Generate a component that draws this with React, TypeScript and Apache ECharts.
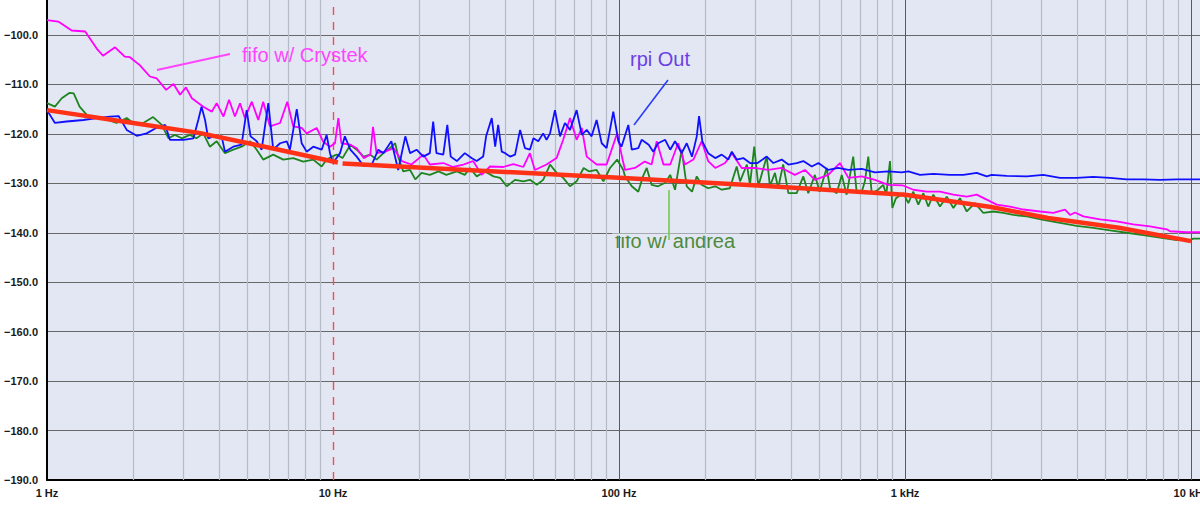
import React, { useEffect, useRef } from "react";
import * as echarts from "echarts";

// Frequency (Hz), level (dB)
const rpiOut: [number, number][] = [
  [1, -115.2], [1.066, -117.8], [1.17, -117.5], [1.34, -117.2], [1.49, -116.8], [1.66, -116.5], [1.78, -116.4],
  [1.9, -119.2], [2.06, -120.4], [2.23, -119.9], [2.39, -118.9], [2.59, -118.2], [2.69, -121.2], [3.0, -121.2],
  [3.25, -120.9], [3.38, -117.2], [3.47, -114.5], [3.57, -117.2], [3.66, -120.9], [3.82, -120.5], [4.08, -120.5],
  [4.19, -123.6], [4.48, -122.6], [4.79, -122.2], [4.99, -115.2], [5.15, -120.5], [5.41, -121.5], [5.63, -123.2],
  [5.94, -113.8], [6.18, -123.2], [6.53, -121.9], [6.89, -121.5], [7.07, -123.2], [7.47, -115.0], [7.77, -121.9],
  [8.09, -123.6], [8.53, -122.6], [9.13, -123.2], [9.5, -120.2], [9.76, -123.9], [10.0, -125.9], [10.58, -123.9],
  [11.0, -120.5], [11.5, -123.2], [12.1, -124.6], [12.8, -126.5], [13.65, -126.3], [14.4, -123.2], [15.0, -123.9],
  [16.0, -121.5], [16.9, -127.3], [17.9, -120.5], [18.6, -123.9], [19.6, -123.2], [20.7, -124.6], [21.8, -123.9],
  [22.4, -117.5], [23.0, -123.9], [24.3, -124.2], [25.1, -118.2], [25.8, -124.6], [27.1, -125.5], [28.9, -123.9],
  [30.5, -124.9], [31.8, -125.5], [33.5, -124.6], [34.3, -120.5], [35.9, -116.8], [36.9, -122.6], [37.8, -118.2],
  [38.9, -123.6], [40.0, -123.9], [41.6, -124.6], [43.3, -124.2], [45.1, -119.2], [46.9, -122.9], [48.8, -123.2],
  [50.2, -120.9], [52.2, -121.5], [54.3, -119.9], [55.8, -121.2], [57.4, -119.9], [59.7, -115.2], [62.2, -120.5],
  [64.7, -117.8], [67.4, -119.2], [71.1, -115.2], [74.1, -120.2], [77.1, -119.2], [80.2, -120.5], [83.5, -117.2],
  [87.0, -121.9], [90.5, -122.9], [95.5, -115.5], [99.5, -121.5], [102, -122.6], [107.8, -118.2], [110.8, -123.2],
  [116.8, -122.9], [120, -121.2], [127, -122.2], [131.8, -123.6], [137, -121.9], [145, -121.2], [151, -123.2],
  [157, -121.5], [165.6, -123.9], [172.5, -121.9], [180, -124.6], [187, -120.5], [190.5, -116.4], [195.6, -121.5],
  [205, -123.9], [217, -124.9], [228.6, -124.2], [241, -125.2], [248, -123.6], [258, -125.2], [272, -124.9],
  [287, -125.9], [305, -125.9], [328.5, -124.6], [346.5, -125.9], [370.5, -125.2], [391, -126.2], [418, -125.9],
  [441, -125.5], [472, -126.6], [498, -125.9], [539, -127.3], [584, -126.9], [634, -127.3], [706, -127.1],
  [785, -127.8], [875, -127.6], [973, -127.8], [1027, -127.6], [1128, -128.3], [1256, -128.1], [1436, -128.3],
  [1600, -128.3], [1781, -127.9], [1930, -128.6], [2009, -128.3], [2267, -128.5], [2665, -128.6], [3045, -128.3],
  [3483, -128.9], [3983, -128.9], [4553, -128.7], [5207, -128.9], [5956, -129.2], [6810, -129.2], [7792, -129.3],
  [8913, -129.2], [10190, -129.2], [10750, -129.2],
];

const fifoCrystek: [number, number][] = [
  [1, -97.0], [1.095, -97.3], [1.22, -99.1], [1.36, -99.3], [1.49, -102.7], [1.57, -104.2], [1.73, -102.5],
  [1.87, -104.4], [1.95, -104.5], [2.11, -106.1], [2.29, -108.4], [2.42, -108.8], [2.61, -111.1], [2.77, -109.9],
  [2.92, -112.1], [3.06, -110.6], [3.21, -112.8], [3.52, -114.5], [3.77, -115.5], [3.92, -113.8], [4.14, -116.5],
  [4.33, -113.1], [4.54, -116.5], [4.73, -113.8], [4.92, -116.8], [5.2, -113.5], [5.48, -117.2], [5.7, -113.5],
  [6.02, -118.5], [6.53, -117.8], [6.92, -113.5], [7.26, -118.5], [7.77, -118.8], [8.09, -119.9], [8.77, -118.8],
  [9.25, -121.6], [9.76, -122.6], [10.16, -121.9], [10.44, -116.8], [10.7, -121.9], [11.5, -122.2], [12.1, -122.9],
  [12.8, -124.9], [13.5, -124.2], [13.8, -118.6], [14.2, -123.9], [15.2, -123.6], [16.3, -122.9], [17.4, -125.5],
  [18.8, -126.2], [20.7, -124.2], [21.8, -126.2], [24.3, -125.9], [26.3, -126.7], [28.6, -126.2], [30.9, -125.5],
  [33.1, -128.3], [35.4, -126.6], [39.4, -126.7], [42.7, -126.1], [46.3, -126.7], [48.8, -123.9], [50.8, -127.3],
  [55.8, -126.2], [60.5, -124.9], [63.8, -121.2], [67.4, -116.8], [71.1, -121.2], [74.1, -118.8], [77.1, -124.6],
  [83.5, -126.2], [90.5, -126.2], [98.5, -119.9], [103, -125.3], [105, -127.3], [113.7, -126.9], [123, -125.6],
  [130, -126.2], [135.5, -121.5], [143, -126.2], [151, -126.2], [161, -121.9], [170, -126.2], [182, -125.2],
  [194.5, -121.5], [205, -125.5], [217, -126.9], [235, -125.9], [248, -123.9], [268.5, -126.9], [299, -126.9],
  [332.5, -127.3], [370.5, -126.9], [412, -128.3], [447, -127.3], [484, -129.3], [539, -128.3], [592, -125.9],
  [634, -128.9], [706, -128.6], [785, -129.3], [875, -130.3], [980, -130.4], [1069, -131.3], [1191, -131.7],
  [1325, -131.7], [1476, -132.3], [1644, -132.7], [1781, -132.3], [1930, -133.3], [2093, -134.3], [2328, -134.7],
  [2592, -135.3], [2965, -135.7], [3301, -136.0], [3626, -135.3], [3776, -136.4], [3929, -135.9], [4203, -136.7],
  [4808, -137.3], [5500, -137.7], [6286, -138.3], [7189, -138.7], [8226, -139.3], [8446, -139.7], [9660, -139.9],
  [10750, -139.9],
];

const fifoAndrea: [number, number][] = [
  [1, -113.8], [1.066, -114.5], [1.126, -112.8], [1.2, -111.7], [1.24, -111.8], [1.3, -114.5], [1.41, -116.8],
  [1.57, -116.8], [1.75, -117.8], [1.9, -116.8], [2.0, -117.8], [2.17, -117.8], [2.35, -116.6], [2.52, -118.2],
  [2.66, -120.9], [2.8, -120.2], [2.96, -120.9], [3.16, -120.2], [3.33, -120.9], [3.52, -119.9], [3.71, -122.6],
  [3.92, -121.5], [4.19, -123.9], [4.48, -123.2], [4.79, -122.6], [5.13, -121.5], [5.41, -123.2], [5.7, -125.2],
  [6.18, -124.2], [6.7, -125.2], [7.26, -124.9], [7.87, -125.6], [8.53, -125.2], [9.13, -126.6], [9.5, -125.2],
  [10.0, -124.5], [10.3, -124.2], [10.8, -124.9], [11.5, -122.2], [12.1, -123.2], [12.8, -124.6], [13.5, -124.2],
  [14.2, -125.2], [15.0, -123.9], [15.8, -122.9], [16.5, -121.9], [16.9, -124.6], [17.6, -127.6], [18.6, -127.3],
  [19.4, -129.2], [20.4, -127.9], [21.8, -128.3], [23.4, -127.6], [24.9, -128.3], [27.1, -127.6], [28.9, -128.3],
  [30.1, -126.9], [31.8, -128.6], [34, -127.6], [36.4, -128.6], [38.4, -128.9], [40.5, -130.6], [43.3, -129.3],
  [46.3, -129.6], [48.8, -129.3], [51.6, -130.3], [54.3, -129.3], [57.4, -126.2], [60.5, -127.9], [63.8, -128.9],
  [67.4, -130.6], [71.1, -129.6], [75.2, -126.9], [78.7, -127.6], [83.5, -127.3], [88.2, -129.6], [93, -126.9],
  [98.5, -125.2], [103.5, -127.3], [105, -128.6], [110.8, -130.6], [116.8, -131.7], [121.3, -128.6], [125, -126.9],
  [130, -130.3], [137, -130.6], [145, -129.9], [151, -128.3], [157, -131.3], [165.6, -123.2], [172.5, -130.6],
  [180, -131.7], [187, -128.6], [194.5, -130.3], [205, -131.0], [217, -130.6], [228.6, -131.3], [244, -131.0],
  [258, -126.6], [265, -129.6], [280, -126.2], [287, -130.3], [297, -122.6], [307, -130.6], [320, -126.9],
  [328.5, -124.6], [337, -130.6], [351, -127.9], [360, -131.0], [375, -126.2], [391, -132.0], [418, -132.0],
  [441, -128.6], [459, -132.0], [484, -128.3], [503, -131.7], [532, -126.9], [547, -131.0], [577, -132.0],
  [601, -128.3], [625, -132.3], [659, -124.6], [678, -132.0], [706, -131.7], [724, -129.6], [744, -124.6],
  [765, -132.0], [806, -131.3], [839, -130.3], [860, -132.3], [886, -125.5], [903, -135.0], [930, -133.0],
  [987, -132.0], [1027, -134.0], [1069, -131.7], [1113, -134.3], [1159, -132.0], [1206, -134.7], [1256, -132.3],
  [1325, -134.7], [1399, -132.7], [1476, -135.0], [1556, -133.0], [1644, -135.7], [1757, -134.0], [1879, -136.0],
  [2036, -135.7], [2206, -136.0], [2392, -136.4], [2665, -136.7], [3045, -137.4], [3483, -138.0], [3983, -138.6],
  [4553, -139.0], [5207, -139.5], [5956, -140.0], [6810, -140.5], [7792, -141.0], [8913, -141.5], [9900, -141.5],
  [10190, -141.2], [10750, -141.2],
];

// Reference trend line (broken just above 10 Hz)
const referenceTrend: [number, number | string][] = [
  [1, -115.2], [2, -117.8], [3.4, -119.8], [6, -122.8], [10.4, -125.8], [10.6, "-"], [10.8, -126.0],
  [31.6, -127.4], [100, -128.9], [316, -130.5], [1000, -132.3], [2000, -134.8], [3160, -137.0],
  [5600, -139.0], [10000, -141.7],
];

const majorFreqLines = [100, 1000, 10000];
const markerFreqs = [10];
const minorFreqLines = [
  2, 3, 4, 5, 6, 7, 8, 9,
  20, 30, 40, 50, 60, 70, 80, 90,
  200, 300, 400, 500, 600, 700, 800, 900,
  2000, 3000, 4000, 5000, 6000, 7000, 8000, 9000,
];

const X_MIN = 1;
const X_MAX = 10750;
const Y_MIN = -190;
const Y_MAX = -92.93;

const BG = "#e2e7f3";
const FONT = '"Liberation Sans", Arial, Helvetica, sans-serif';

export default function App() {
  const ref = useRef<HTMLDivElement>(null);

  useEffect(() => {
    document.body.style.margin = "0";
    document.body.style.background = "#ffffff";
    if (!ref.current) return;
    const chart = echarts.init(ref.current, null, { renderer: "svg" });

    const lineSeries = (name: string, data: any[], color: string, width: number, z: number) => ({
      name,
      type: "line",
      data,
      showSymbol: false,
      symbol: "none",
      connectNulls: false,
      z,
      lineStyle: { color, width },
      itemStyle: { color },
      emphasis: { disabled: true },
    });

    const gridMarks = (values: number[], color: string, width: number, type: any) => ({
      silent: true,
      z: 1,
      symbol: ["none", "none"],
      label: { show: false },
      emphasis: { disabled: true },
      animation: false,
      lineStyle: { color, width, type },
      data: values.map((f) => ({ xAxis: f })),
    });

    const option: any = {
      animation: false,
      backgroundColor: "#ffffff",
      grid: {
        left: 47,
        right: 0,
        top: 0,
        bottom: 28,
        show: true,
        backgroundColor: BG,
        borderWidth: 0,
        containLabel: false,
        outerBoundsMode: "none",
      },
      xAxis: {
        type: "log",
        logBase: 10,
        min: X_MIN,
        max: X_MAX,
        axisLine: { show: true, onZero: false, lineStyle: { color: "#000", width: 2 } },
        axisTick: { show: false },
        splitLine: { show: false },
        axisLabel: {
          margin: 7,
          fontSize: 11,
          fontWeight: "bold",
          fontFamily: FONT,
          color: "#1a1a1a",
          formatter: (v: number) => {
            const l = Math.log10(v);
            if (Math.abs(l - Math.round(l)) > 1e-3) return "";
            const r = Math.round(v);
            return r >= 1000 ? `${r / 1000} kHz` : `${r} Hz`;
          },
        },
      },
      yAxis: {
        type: "value",
        min: Y_MIN,
        max: Y_MAX,
        interval: 10,
        axisLine: { show: true, onZero: false, lineStyle: { color: "#000", width: 2 } },
        axisTick: { show: false },
        splitLine: { show: true, showMaxLine: false, lineStyle: { color: "#686868", width: 1 } },
        axisLabel: {
          margin: 9,
          fontSize: 11,
          fontWeight: "bold",
          fontFamily: FONT,
          color: "#1a1a1a",
          formatter: (v: number) => {
            if (Math.abs(v - Math.round(v / 10) * 10) > 1e-6) return "";
            return v.toFixed(1).replace("-", "\u2212");
          },
        },
      },
      series: [
        {
          ...lineSeries("fifo w/ andrea", fifoAndrea, "#1f8420", 1.8, 3),
          markLine: gridMarks(minorFreqLines, "#b6bbc8", 1.2, "solid"),
        },
        {
          ...lineSeries("fifo w/ Crystek", fifoCrystek, "#ff00ff", 1.8, 4),
          markLine: gridMarks(majorFreqLines, "#5a5a5a", 1, "solid"),
        },
        {
          ...lineSeries("rpi Out", rpiOut, "#1010ff", 1.8, 5),
          markLine: gridMarks(markerFreqs, "#ff4a4a", 1.4, [8, 7]),
        },
        lineSeries("reference", referenceTrend, "#ff3218", 4.5, 6),
      ],
      graphic: [
        {
          type: "line",
          z: 100,
          shape: { x1: 157, y1: 70, x2: 230, y2: 54 },
          style: { stroke: "#ff44ff", lineWidth: 2 },
        },
        {
          type: "text",
          z: 100,
          x: 242,
          y: 55,
          style: {
            text: "fifo w/ Crystek",
            fill: "#ff44ff",
            fontSize: 20,
            fontFamily: FONT,
            align: "left",
            verticalAlign: "middle",
          },
        },
        {
          type: "line",
          z: 100,
          shape: { x1: 668, y1: 80, x2: 634, y2: 125 },
          style: { stroke: "#2a3cff", lineWidth: 1.6 },
        },
        {
          type: "text",
          z: 100,
          x: 630,
          y: 59,
          style: {
            text: "rpi Out",
            fill: "#6a40e6",
            fontSize: 20,
            fontFamily: FONT,
            align: "left",
            verticalAlign: "middle",
          },
        },
        {
          type: "text",
          z: 100,
          x: 615,
          y: 240.5,
          style: {
            text: "fifo w/ andrea",
            fill: "#4e8a3c",
            fontSize: 20,
            fontFamily: FONT,
            align: "left",
            verticalAlign: "middle",
          },
        },
        {
          type: "rect",
          z: 101,
          shape: { x: 612, y: 233.6, width: 128, height: 2.1 },
          style: { fill: BG },
        },
        {
          type: "line",
          z: 102,
          shape: { x1: 669, y1: 190, x2: 669, y2: 240 },
          style: { stroke: "#78c850", lineWidth: 1.6 },
        },
      ],
    };

    chart.setOption(option);
    return () => chart.dispose();
  }, []);

  return <div ref={ref} style={{ width: 1200, height: 508 }} />;
}
